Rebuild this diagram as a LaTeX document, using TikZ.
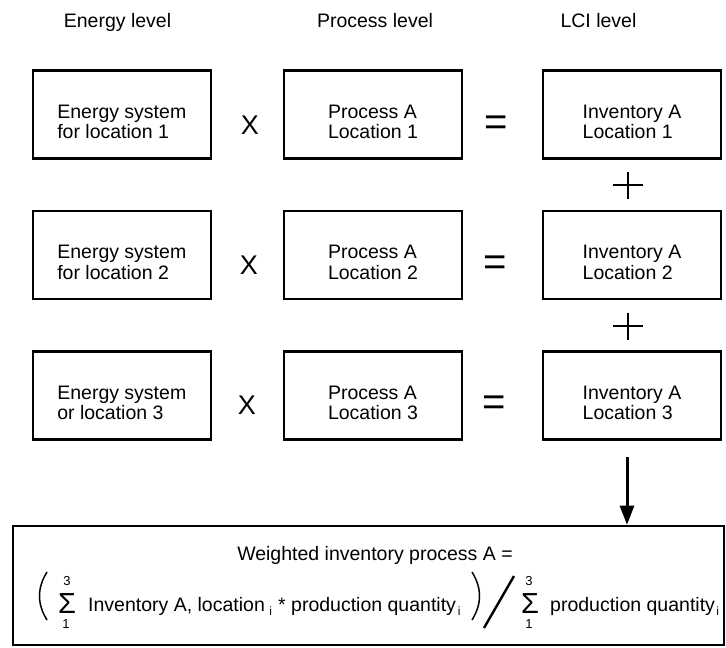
\documentclass[tikz,border=0pt]{standalone}
\usepackage{fontspec}
\setmainfont{Liberation Sans}
\usetikzlibrary{arrows.meta}
% pushes the first line of a box label down a little
\newcommand{\boxlift}{\rule{0pt}{28pt}}

\begin{document}
\begin{tikzpicture}[x=1pt,y=-1pt,
  box/.style={draw, line width=2.6pt, minimum width=178pt, minimum height=88pt,
    align=left, inner sep=0pt, font=\fontsize{19.5}{20.8}\selectfont},
  head/.style={font=\fontsize{19.5}{21}\selectfont, inner sep=0pt, anchor=base},
  op/.style={font=\fontsize{27}{27}\selectfont, inner sep=0pt},
  eqop/.style={font=\fontsize{40}{40}\selectfont, inner sep=0pt},
  plusline/.style={line width=1.8pt},
  flow/.style={line width=3pt, -{Triangle[length=19pt,width=14pt]}},
  ftext/.style={font=\fontsize{19.5}{21}\selectfont, inner sep=0pt},
  sig/.style={font=\fontsize{29}{29}\selectfont, inner sep=0pt},
  lim/.style={font=\fontsize{13}{13}\selectfont, inner sep=0pt},
  sub/.style={font=\fontsize{12}{12}\selectfont, inner sep=0pt, anchor=base west},
  bracket/.style={line width=1.5pt},
]
\useasboundingbox (0,0) rectangle (726,648);

% column headings
\node[head] (h1) at (117.5,27.7) {Energy level};
\node[head] (h2) at (375,27.7) {Process level};
\node[head] (h3) at (598.5,27.7) {LCI level};

% row 1
\node[box] (e1) at (121.8,114.5) {\boxlift Energy system\\for location 1};
\node[box] (p1) at (373,114.5) {\boxlift Process A\\Location 1};
\node[box] (i1) at (632,114.5) {\boxlift Inventory A\\Location 1};
\node[op] (x1) at (250,125) {X};
\node[eqop] (q1) at (496,126) {=};

% row 2
\node[box] (e2) at (121.8,255) {\boxlift Energy system\\for location 2};
\node[box] (p2) at (373,255) {\boxlift Process A\\Location 2};
\node[box] (i2) at (632,255) {\boxlift Inventory A\\Location 2};
\node[op] (x2) at (249,265) {X};
\node[eqop] (q2) at (495,266) {=};

% row 3
\node[box] (e3) at (121.8,395.5) {\boxlift Energy system\\or location 3};
\node[box] (p3) at (373,395.5) {\boxlift Process A\\Location 3};
\node[box] (i3) at (632,395.5) {\boxlift Inventory A\\Location 3};
\node[op] (x3) at (247,405) {X};
\node[eqop] (q3) at (494,406) {=};

% plus signs between the inventories
\coordinate (pl1) at (628,185);
\coordinate (pl2) at (628,326);
\foreach \c in {pl1,pl2}{
  \draw[plusline] ([xshift=-15pt]\c) -- ([xshift=15pt]\c);
  \draw[plusline] ([yshift=13.5pt]\c) -- ([yshift=-13.5pt]\c);
}

% weighted result
\node[draw, line width=2.6pt, minimum width=711pt, minimum height=119pt, inner sep=0pt]
  (f) at (368.5,585.5) {};
\coordinate (astart) at (627,457);
\draw[flow] (astart) -- (f.north -| astart);

\node[ftext, anchor=base] (w) at (375,560) {Weighted inventory process A =};

% numerator
\draw[bracket] (47,572) .. controls (37,588) and (37,604) .. (47,620);
\node[sig] (sg1) at (67,603.5) {Σ};
\node[lim] (u1) at (67,581) {3};
\node[lim] (l1) at (66,624) {1};
\node[ftext, anchor=base west] (t1) at (88,611) {Inventory A, location};
\node[sub] (s1) at ([xshift=4pt,yshift=-4pt]t1.base east) {i};
\node[ftext, anchor=base west] (t2) at (278,611) {* production quantity};
\node[sub] (s2) at ([xshift=1.5pt,yshift=-4pt]t2.base east) {i};
\draw[bracket] (472,572) .. controls (482,588) and (482,604) .. (472,620);

% division and denominator
\draw[line width=2.4pt] (484,628) -- (514,576);
\node[sig] (sg2) at (530,603.5) {Σ};
\node[lim] (u2) at (529,581) {3};
\node[lim] (l2) at (529,624) {1};
\node[ftext, anchor=base west] (t3) at (550,611) {production quantity};
\node[sub] (s3) at ([xshift=1pt,yshift=-4pt]t3.base east) {i};
\end{tikzpicture}
\end{document}
